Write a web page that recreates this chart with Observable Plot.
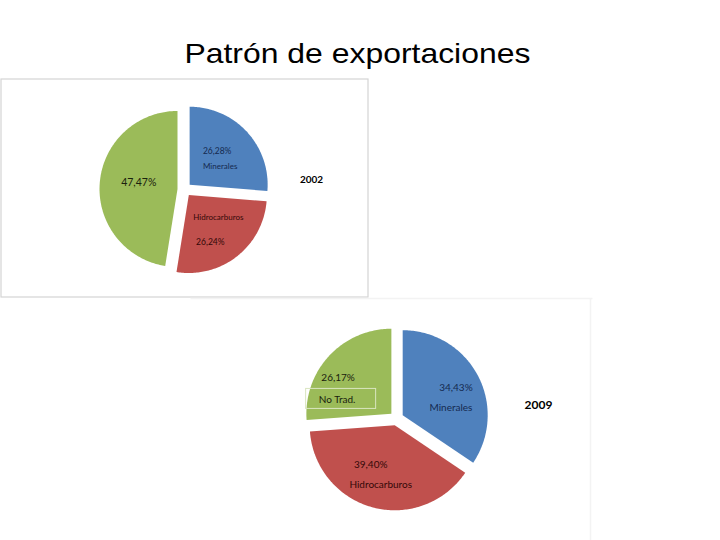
<!DOCTYPE html>
<html>
<head>
<meta charset="utf-8">
<script src="https://cdn.jsdelivr.net/npm/d3@7"></script>
<script src="https://cdn.jsdelivr.net/npm/@observablehq/plot@0.6"></script>
<style>
  html, body { margin: 0; padding: 0; background: #fff; }
  #title { height: 76px; position: relative; font-family: "Liberation Sans", Arial, sans-serif; }
  #title span { position: absolute; left: -3px; width: 720px; text-align: center; top: 40px; font-size: 28px; color: #000; line-height: 1; transform: scaleX(1.14); transform-origin: 357px 0; }
  svg { display: block; }
</style>
</head>
<body>
<div id="title"><span>Patrón de exportaciones</span></div>
<div id="chart"></div>
<script>
// ---- data ----
const years = ["2002", "2009"];
const categories = ["Minerales", "Hidrocarburos", "No Trad."];
const values2002 = [26.28, 26.24, 47.47];
const values2009 = [34.43, 39.40, 26.17];
const pctLabels2002 = ["26,28%", "26,24%", "47,47%"];
const pctLabels2009 = ["34,43%", "39,40%", "26,17%"];
const colors = ["#4f81bd", "#c0504d", "#9bbb59"];

// ---- layout (page pixel space) ----
const pies = [
  {year: "2002", values: values2002, pcts: pctLabels2002, cx: 184, cy: 189, r: 78, explode: 7, yearX: 311, yearY: 179, yearSize: 10,
   labelSize: 8, showName: [true, true, false],
   offs: [[-4, -4, -1, 11], [-5, 14, 3, -11], [4, -3, 0, 0]], pctSize: [8.5, 8.5, 10.5]},
  {year: "2009", values: values2009, pcts: pctLabels2009, cx: 396, cy: 418, r: 85, explode: 7, yearX: 538, yearY: 405, yearSize: 12,
   labelSize: 10, showName: [true, true, true],
   offs: [[12, -5, 7, 15], [-12, -6, -2, 14], [-19, -4, -20, 18]], pctSize: [10, 10, 10]}
];
const textColors = ["#152a50", "#330808", "#1a210d"];

// ---- build geometry from values ----
const polys = [];
const labels = [];
const yearLabels = [];
const deg = Math.PI / 180;
for (const p of pies) {
  const arcs = d3.pie().sort(null).startAngle(0).endAngle(2 * Math.PI)(p.values);
  arcs.forEach((a, i) => {
    const mid = (a.startAngle + a.endAngle) / 2;
    const ox = p.cx + p.explode * Math.sin(mid);
    const oy = p.cy - p.explode * Math.cos(mid);
    const key = p.year + "-" + categories[i];
    polys.push({key, cat: categories[i], x: ox, y: oy});
    const n = Math.max(2, Math.ceil((a.endAngle - a.startAngle) / deg));
    for (let k = 0; k <= n; k++) {
      const t = a.startAngle + (a.endAngle - a.startAngle) * k / n;
      polys.push({key, cat: categories[i], x: ox + p.r * Math.sin(t), y: oy - p.r * Math.cos(t)});
    }
    const lx = ox + 0.55 * p.r * Math.sin(mid);
    const ly = oy - 0.55 * p.r * Math.cos(mid);
    const o = p.offs[i];
    labels.push({x: lx + o[0], y: ly + o[1], text: p.pcts[i], size: p.pctSize[i], color: textColors[i]});
    if (p.showName[i]) labels.push({x: lx + o[2], y: ly + o[3], text: categories[i], size: p.labelSize, color: textColors[i]});
  });
  yearLabels.push({x: p.yearX, y: p.yearY, text: p.year, size: p.yearSize});
}

const svgHeight = 464, topOffset = 76;
const frames = [
  {x1: 1, x2: 368, y1: 79, y2: 297, stroke: "#d4d4d4"}
];
const faintLines = [
  {x1: 190, x2: 592, y1: 298, y2: 298},
  {x1: 590, x2: 590, y1: 298, y2: 540}
];
const noTradBox = labels.filter(d => d.text === "No Trad.").map(d => ({x1: d.x - 31, x2: d.x + 39, y1: d.y - 11, y2: d.y + 9}));

const chart = Plot.plot({
  width: 720,
  height: svgHeight,
  margin: 0,
  x: {domain: [0, 720], range: [0, 720], axis: null},
  y: {domain: [topOffset, topOffset + svgHeight], range: [0, svgHeight], axis: null},
  color: {domain: categories, range: colors},
  style: {fontFamily: "Lato, 'Open Sans', sans-serif", background: "#fff"},
  marks: [
    Plot.rect(frames, {x1: "x1", x2: "x2", y1: "y1", y2: "y2", fill: "none", stroke: "stroke", strokeWidth: 1.2}),
    Plot.link(faintLines, {x1: "x1", x2: "x2", y1: "y1", y2: "y2", stroke: "#f3f3f3", strokeWidth: 1.5}),
    Plot.line(polys, {x: "x", y: "y", z: "key", fill: "cat", stroke: "none", curve: "linear-closed"}),
    Plot.rect(noTradBox, {x1: "x1", x2: "x2", y1: "y1", y2: "y2", fill: "none", stroke: "#d9e5c0", strokeWidth: 1}),
    Plot.text(labels, {x: "x", y: "y", text: "text", fill: d => d.color, fontSize: d => d.size, textAnchor: "middle"}),
    Plot.text(yearLabels, {x: "x", y: "y", text: "text", fill: "#000", fontSize: d => d.size, fontWeight: "bold", textAnchor: "middle"})
  ]
});
document.getElementById("chart").append(chart);
</script>
</body>
</html>
